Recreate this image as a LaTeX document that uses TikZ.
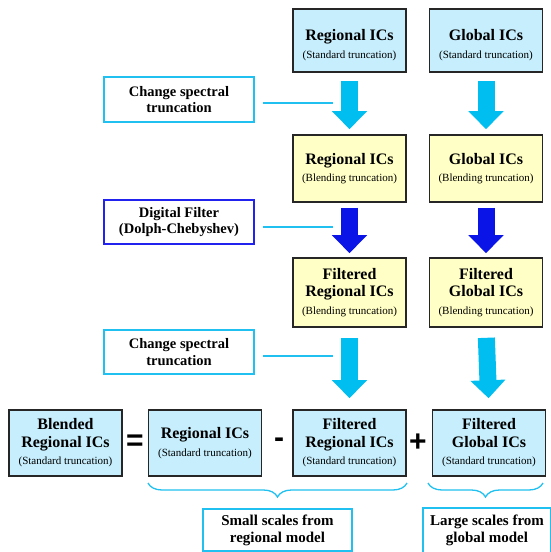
\documentclass[tikz,border=0pt]{standalone}
\usepackage{fontspec}
\setmainfont{Liberation Serif}
\newfontfamily\opfont{Liberation Sans}
\usetikzlibrary{arrows.meta,decorations.pathreplacing}
\definecolor{boxblue}{HTML}{C6EEFC}
\definecolor{boxyellow}{HTML}{FFFFC6}
\definecolor{arrowcyan}{HTML}{00BEF0}
\definecolor{arrowblue}{HTML}{0A14E6}
\definecolor{sidecyan}{HTML}{20C0F0}
\definecolor{sideblue}{HTML}{2222EE}
\newcommand{\mysub}[1]{{\mdseries\fontsize{11}{12}\selectfont #1}}
\newcommand{\topstrut}{\rule{0pt}{20pt}}
\tikzset{
  mainbox/.style={draw=black!85, line width=1.6pt, minimum width=113pt, align=center, inner sep=0pt,
    font=\bfseries\fontsize{16}{17.5}\selectfont},
  bluebox/.style={mainbox, fill=boxblue},
  yellowbox/.style={mainbox, fill=boxyellow},
  sidebox/.style={draw=sidecyan, line width=1.8pt, fill=white, minimum width=150pt, minimum height=44pt, align=center, inner sep=0pt, font=\bfseries\fontsize{14.5}{16.5}\selectfont},
  fatarrow/.style={line width=17pt, draw=arrowcyan, -{Triangle[width=34pt,length=18pt]}},
  darkarrow/.style={fatarrow, draw=arrowblue},
  link/.style={draw=sidecyan, line width=1.8pt},
  opsign/.style={font=\opfont\bfseries\fontsize{30}{30}\selectfont, inner sep=0pt},
  bracestyle/.style={draw=sidecyan, line width=1.3pt, decorate, decoration={brace, mirror, amplitude=14pt}},
}
\begin{document}
\begin{tikzpicture}[x=1pt,y=-1pt]
\useasboundingbox (0,0) rectangle (550,552);
% column 1 and 2
\node[bluebox, minimum height=63pt] (r1) at (349.5,40.5) {\topstrut Regional ICs\\\mysub{(Standard truncation)}};
\node[bluebox, minimum height=63pt] (g1) at (486,40.5) {\topstrut Global ICs\\\mysub{(Standard truncation)}};
\node[yellowbox, minimum height=67pt] (r2) at (349.5,168.5) {Regional ICs\\\mysub{(Blending truncation)}};
\node[yellowbox, minimum height=67pt] (g2) at (486,168.5) {Global ICs\\\mysub{(Blending truncation)}};
\node[yellowbox, minimum height=69pt] (r3) at (349.5,292.5) {Filtered\\Regional ICs\\\mysub{(Blending truncation)}};
\node[yellowbox, minimum height=69pt] (g3) at (486,292.5) {Filtered\\Global ICs\\\mysub{(Blending truncation)}};
% bottom row
\node[bluebox, minimum height=66pt] (bl) at (65.5,443) {Blended\\Regional ICs\\\mysub{(Standard truncation)}};
\node[bluebox, minimum height=66pt] (r0) at (205,443) {Regional ICs\\\mysub{(Standard truncation)}};
\node[bluebox, minimum height=66pt] (r4) at (349.5,443) {Filtered\\Regional ICs\\\mysub{(Standard truncation)}};
\node[bluebox, minimum height=66pt] (g4) at (489,443) {Filtered\\Global ICs\\\mysub{(Standard truncation)}};
\node[opsign] (eq) at (135,443) {=};
\node[opsign] (mi) at (279,443) {-};
\node[opsign] (pl) at (418,443) {+};
% arrows
\draw[fatarrow, shorten <=8pt, shorten >=5pt] (r1.south) -- (r2.north);
\draw[fatarrow, shorten <=8pt, shorten >=5pt] (g1.south) -- (g2.north);
\draw[darkarrow, shorten <=5pt, shorten >=4pt] (r2.south) -- (r3.north);
\draw[darkarrow, shorten <=5pt, shorten >=4pt] (g2.south) -- (g3.north);
\draw[fatarrow, shorten <=10pt, shorten >=11pt] (r3.south) -- (r4.north);
\draw[fatarrow, shorten <=10pt, shorten >=11pt] (g3.south) -- (g4.north);
% side boxes
\node[sidebox, minimum height=45pt] (c1) at (179,99.5) {Change spectral\\truncation};
\node[sidebox, draw=sideblue] (df) at (179,222) {Digital Filter\\(Dolph-Chebyshev)};
\node[sidebox] (c2) at (179,352) {Change spectral\\truncation};
\coordinate (a1) at (333,103);
\coordinate (a2) at (333,227);
\coordinate (a3) at (333,356);
\draw[link] ([xshift=8pt]c1.east |- a1) -- (a1);
\draw[link] ([xshift=8pt]df.east |- a2) -- (a2);
\draw[link] ([xshift=8pt]c2.east |- a3) -- (a3);
% braces
\draw[bracestyle] (148,483) -- (407,483);
\draw[bracestyle] (428,483) -- (543,483);
% bottom boxes
\node[sidebox, minimum width=149pt, minimum height=42pt, font=\bfseries\fontsize{15}{17}\selectfont] (sm) at (277.5,530) {Small scales from\\regional model};
\node[sidebox, minimum width=128pt, minimum height=45pt, font=\bfseries\fontsize{15}{17}\selectfont] (lg) at (487,530.5) {Large scales from\\global model};
\end{tikzpicture}
\end{document}
